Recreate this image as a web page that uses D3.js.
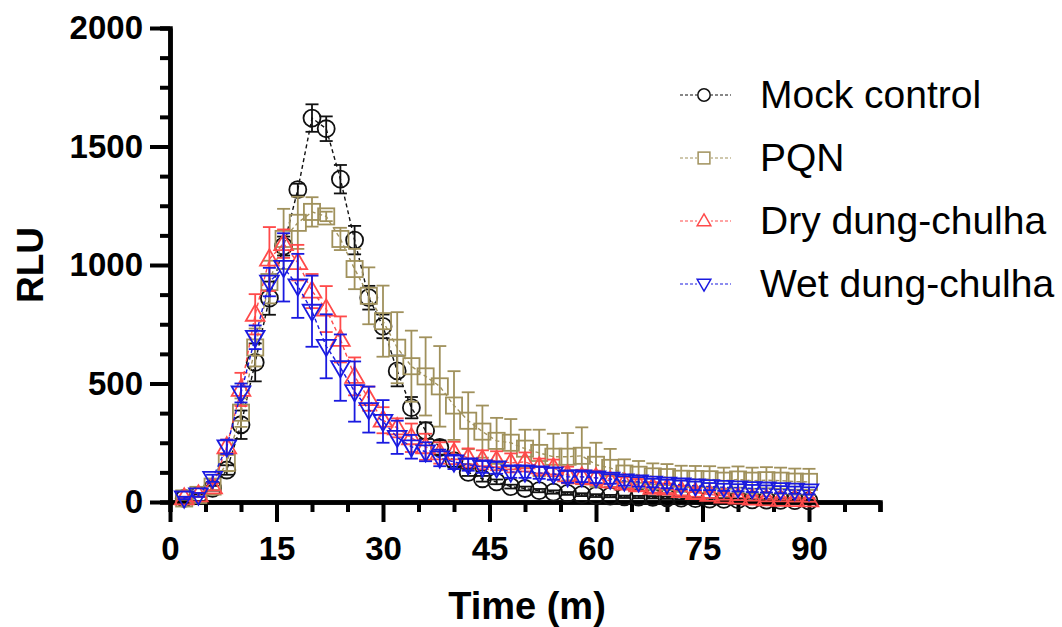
<!DOCTYPE html>
<html><head><meta charset="utf-8">
<script src="https://cdn.jsdelivr.net/npm/d3@7"></script>
<style>body{margin:0;background:#fff}svg{display:block}</style>
</head><body>
<script>
const time = [2,4,6,8,10,12,14,16,18,20,22,24,26,28,30,32,34,36,38,40,42,44,46,48,50,52,54,56,58,60,62,64,66,68,70,72,74,76,78,80,82,84,86,88,90];
const mock = [15,28,58,135,326,589,860,1080,1318,1620,1575,1362,1105,862,741,553,398,301,230,174,125,98,85,65,57,48,42,36,31,27,25,22,21,20,18,16,14,12,11,10,9,8,7,6,5];
const mockErr = [5,5,10,20,60,80,70,40,25,58,52,60,60,50,50,65,45,35,30,25,15,12,10,8,8,7,7,6,6,6,5,5,5,5,5,5,5,5,5,5,5,5,5,5,5];
const pqn = [15,30,65,165,377,652,928,1110,1178,1224,1205,1110,983,870,763,651,573,530,488,407,343,297,258,250,225,207,191,191,195,157,144,120,115,108,105,98,97,96,90,95,90,92,90,86,85];
const pqnErr = [5,8,15,35,60,80,90,127,110,62,20,47,85,120,150,150,150,165,170,145,120,110,97,100,80,98,97,100,120,93,80,60,58,55,55,55,55,55,55,55,55,55,55,55,55];
const dry = [17,30,64,233,475,792,1025,1090,1010,890,814,686,530,436,345,313,271,233,207,207,186,178,174,165,169,148,144,114,106,102,89,80,72,62,58,48,40,32,25,20,16,13,11,10,9];
const dryErr = [5,8,15,30,70,85,135,60,75,72,97,97,80,51,55,40,60,55,45,47,40,40,40,40,40,35,35,35,30,30,28,25,25,22,20,20,18,15,15,12,10,10,8,8,8];
const wet = [17,30,100,233,460,695,928,990,912,805,657,567,466,390,340,273,233,212,186,169,157,148,144,127,127,123,119,106,106,102,97,89,85,80,76,72,68,65,62,60,57,55,52,50,47];
const wetErr = [5,8,15,30,40,50,60,144,135,150,135,140,127,97,90,70,50,40,35,30,25,25,25,25,25,25,25,25,22,22,20,20,20,18,18,18,18,15,15,15,15,15,15,15,15];
const seriesNames = ["Mock control","PQN","Dry dung-chulha","Wet dung-chulha"];
const xMajor = [0,15,30,45,60,75,90];
const xMinor = [5,10,20,25,35,40,50,55,65,70,80,85,95,100];
const yMajor = [0,500,1000,1500,2000];
const yMinor = [125,250,375,625,750,875,1125,1250,1375,1625,1750,1875];

const W = 1062, H = 627;
const FONT = "Liberation Sans, Arial, sans-serif";
const svg = d3.select("body").append("svg").attr("width", W).attr("height", H);
const x = d3.scaleLinear().domain([0,100]).range([170,880]);
const y = d3.scaleLinear().domain([0,2000]).range([502,28]);

const series = [
  {name: seriesNames[0], vals: mock, err: mockErr, color: "#111111", shape: "circle"},
  {name: seriesNames[1], vals: pqn, err: pqnErr, color: "#a0915c", shape: "square"},
  {name: seriesNames[2], vals: dry, err: dryErr, color: "#ff4a4a", shape: "up"},
  {name: seriesNames[3], vals: wet, err: wetErr, color: "#1a1ae0", shape: "down"}
];

function marker(g, shape, cx, cy, s, color, sw) {
  if (shape === "circle") {
    g.append("circle").attr("cx", cx).attr("cy", cy).attr("r", s).attr("fill", "none").attr("stroke", color).attr("stroke-width", sw);
  } else if (shape === "square") {
    const h = s*0.95;
    g.append("rect").attr("x", cx - h).attr("y", cy - h).attr("width", 2*h).attr("height", 2*h).attr("fill", "none").attr("stroke", color).attr("stroke-width", sw);
  } else if (shape === "up") {
    const h = s*1.9, w = s*1.1;
    g.append("path").attr("d", `M${cx},${cy - h*0.6}L${cx + w},${cy + h*0.4}L${cx - w},${cy + h*0.4}Z`).attr("fill", "none").attr("stroke", color).attr("stroke-width", sw);
  } else {
    const h = s*1.9, w = s*1.1;
    g.append("path").attr("d", `M${cx},${cy + h*0.6}L${cx + w},${cy - h*0.4}L${cx - w},${cy - h*0.4}Z`).attr("fill", "none").attr("stroke", color).attr("stroke-width", sw);
  }
}

// axes
const axisW = 4.5;
const gx = svg.append("g").attr("transform", `translate(0,${y(0)})`);
gx.call(d3.axisBottom(x).tickValues(xMinor).tickSize(10).tickFormat(""));
gx.append("g").call(d3.axisBottom(x).tickValues(xMajor).tickSize(20).tickSizeOuter(0).tickPadding(15).tickFormat(d3.format("d")));
gx.selectAll("path.domain").attr("stroke-width", axisW).attr("stroke", "#000");
gx.selectAll("line").attr("stroke-width", 4).attr("stroke", "#000");
gx.selectAll("text").attr("font-family", FONT).attr("font-weight", "bold").attr("font-size", 33).attr("fill", "#000");

const gy = svg.append("g").attr("transform", `translate(${x(0)},0)`);
gy.call(d3.axisLeft(y).tickValues(yMinor).tickSize(10).tickFormat(""));
gy.append("g").call(d3.axisLeft(y).tickValues(yMajor).tickSize(20).tickSizeOuter(0).tickPadding(7).tickFormat(d3.format("d")));
gy.selectAll("path.domain").attr("stroke-width", axisW).attr("stroke", "#000");
gy.selectAll("line").attr("stroke-width", 4).attr("stroke", "#000");
gy.selectAll("text").attr("font-family", FONT).attr("font-weight", "bold").attr("font-size", 33).attr("fill", "#000");

// axis titles
svg.append("text").attr("x", 527).attr("y", 619).attr("text-anchor", "middle")
  .attr("font-family", FONT).attr("font-weight", "bold").attr("font-size", 38).text("Time (m)");
svg.append("text").attr("transform", `translate(43,265) rotate(-90)`).attr("text-anchor", "middle")
  .attr("font-family", FONT).attr("font-weight", "bold").attr("font-size", 37).text("RLU");

// series
const plot = svg.append("g");
series.forEach(s => {
  const g = plot.append("g");
  const line = d3.line().x((d,i) => x(time[i])).y(d => y(d));
  g.append("path").datum(s.vals).attr("d", line).attr("fill", "none").attr("stroke", s.color)
    .attr("stroke-width", 1.4).attr("stroke-dasharray", "4,3");
  s.vals.forEach((v, i) => {
    const cx = x(time[i]);
    const e = s.err[i];
    const y1 = y(v + e), y2 = y(Math.max(0, v - e));
    g.append("line").attr("x1", cx).attr("x2", cx).attr("y1", y1).attr("y2", y2).attr("stroke", s.color).attr("stroke-width", 1.8);
    [y1, y2].forEach(yy => g.append("line").attr("x1", cx - 6.5).attr("x2", cx + 6.5).attr("y1", yy).attr("y2", yy).attr("stroke", s.color).attr("stroke-width", 1.8));
  });
  s.vals.forEach((v, i) => marker(g, s.shape, x(time[i]), y(v), 8.5, s.color, 1.8));
});

// legend
const legY = [95, 158, 221, 284];
series.forEach((s, i) => {
  const g = svg.append("g");
  g.append("line").attr("x1", 680).attr("x2", 731).attr("y1", legY[i]).attr("y2", legY[i])
    .attr("stroke", s.color).attr("stroke-width", 1.1).attr("stroke-dasharray", "3,2");
  const gm = g.append("g");
  gm.append("rect").attr("x", 697).attr("y", legY[i]-7).attr("width", 14).attr("height", 14).attr("fill", "#fff");
  marker(gm, s.shape, 704, legY[i], 6.2, s.color, 1.5);
  g.append("text").attr("x", 760).attr("y", legY[i] + 13)
    .attr("font-family", FONT).attr("font-size", 39).attr("fill", "#000").text(s.name);
});
</script>
</body></html>
